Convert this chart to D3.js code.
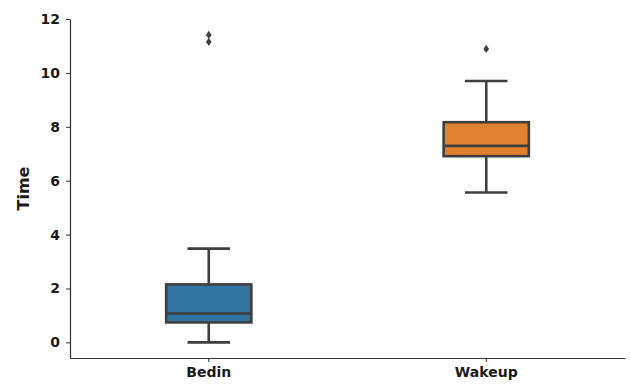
<!DOCTYPE html>
<html>
<head>
<meta charset="utf-8">
<script src="https://cdn.jsdelivr.net/npm/d3@7"></script>
<style>
  html, body { margin: 0; padding: 0; background: #fff; }
  svg { display: block; }
  text { font-family: "DejaVu Sans", sans-serif; font-weight: bold; fill: #1a1a1a; }
</style>
</head>
<body>
<svg id="chart" width="630" height="386"></svg>
<script>
// Box summary per category
const categories = ["Bedin", "Wakeup"];
const whiskerLow = [0.0, 5.56];
const q1 = [0.74, 6.91];
const median = [1.07, 7.29];
const q3 = [2.15, 8.17];
const whiskerHigh = [3.48, 9.70];
const outliers = [[11.15, 11.41], [10.89]];
const fills = ["#3274a1", "#e1812c"];
const yTicks = [0, 2, 4, 6, 8, 10, 12];
const yLabel = "Time";

const svg = d3.select("#chart");
const margin = { left: 70, right: 5, top: 19, bottom: 28 };
const W = 630, H = 386;
const lineColor = "#3f3f3f";

const x = d3.scaleBand()
  .domain(categories)
  .range([margin.left, W - margin.right])
  .paddingInner(0).paddingOuter(0);

const y = d3.scaleLinear()
  .domain([-0.58, 12])
  .range([H - margin.bottom, margin.top]);

const boxW = x.bandwidth() * 0.307;
const capW = boxW / 2;

// axes
const yAxis = svg.append("g")
  .attr("transform", `translate(${margin.left},0)`)
  .call(d3.axisLeft(y).tickValues(yTicks).tickFormat(d3.format("d")).tickSize(4).tickSizeOuter(0).tickPadding(6));
const xAxis = svg.append("g")
  .attr("transform", `translate(0,${H - margin.bottom})`)
  .call(d3.axisBottom(x).tickSize(4).tickSizeOuter(0).tickPadding(5));
[yAxis, xAxis].forEach(g => {
  g.selectAll("path.domain").attr("stroke", "#333").attr("stroke-width", 1.2);
  g.selectAll(".tick line").attr("stroke", "#333").attr("stroke-width", 1);
  g.selectAll("text").attr("font-size", 14).attr("font-family", "DejaVu Sans, sans-serif")
    .attr("font-weight", "bold").attr("fill", "#1a1a1a");
});

const [r0, r1] = y.range();
svg.append("text")
  .attr("transform", `translate(29,${(r0 + r1) / 2}) rotate(-90)`)
  .attr("text-anchor", "middle")
  .attr("font-size", 16)
  .text(yLabel);

// boxes
const data = categories.map((c, i) => ({
  c, lo: whiskerLow[i], q1: q1[i], med: median[i], q3: q3[i], hi: whiskerHigh[i],
  out: outliers[i], fill: fills[i]
}));

const g = svg.append("g").selectAll("g").data(data).join("g")
  .attr("transform", d => `translate(${x(d.c) + x.bandwidth() / 2},0)`);

const lw = 2.6;
// whiskers
g.append("line").attr("x1", 0).attr("x2", 0)
  .attr("y1", d => y(d.q3)).attr("y2", d => y(d.hi))
  .attr("stroke", lineColor).attr("stroke-width", lw);
g.append("line").attr("x1", 0).attr("x2", 0)
  .attr("y1", d => y(d.q1)).attr("y2", d => y(d.lo))
  .attr("stroke", lineColor).attr("stroke-width", lw);
// caps
g.append("line").attr("x1", -capW / 2).attr("x2", capW / 2)
  .attr("y1", d => y(d.hi)).attr("y2", d => y(d.hi))
  .attr("stroke", lineColor).attr("stroke-width", lw);
g.append("line").attr("x1", -capW / 2).attr("x2", capW / 2)
  .attr("y1", d => y(d.lo)).attr("y2", d => y(d.lo))
  .attr("stroke", lineColor).attr("stroke-width", lw);
// box
g.append("rect")
  .attr("x", -boxW / 2).attr("width", boxW)
  .attr("y", d => y(d.q3)).attr("height", d => y(d.q1) - y(d.q3))
  .attr("fill", d => d.fill).attr("stroke", lineColor).attr("stroke-width", lw);
// median
g.append("line").attr("x1", -boxW / 2).attr("x2", boxW / 2)
  .attr("y1", d => y(d.med)).attr("y2", d => y(d.med))
  .attr("stroke", lineColor).attr("stroke-width", lw);
// outliers (thin diamonds)
g.selectAll("path.out").data(d => d.out).join("path")
  .attr("class", "out")
  .attr("d", v => { const cy = y(v); return `M0,${cy - 4.2}L2.8,${cy}L0,${cy + 4.2}L-2.8,${cy}Z`; })
  .attr("fill", lineColor);
</script>
</body>
</html>
